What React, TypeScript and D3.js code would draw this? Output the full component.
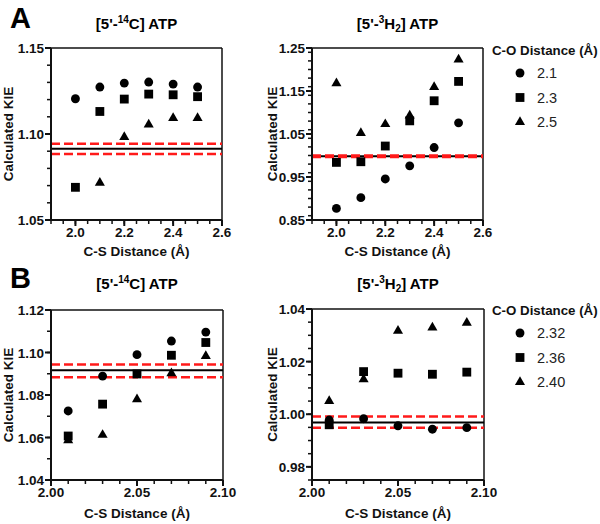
import React from "react";
import * as d3 from "d3";

// ---------- data ----------
const csDistA = [2.0, 2.1, 2.2, 2.3, 2.4, 2.5];
const csDistB = [2.01, 2.03, 2.05, 2.07, 2.09];
const coLabelsA = ["2.1", "2.3", "2.5"];
const coLabelsB = ["2.32", "2.36", "2.40"];

// Panel A, [5'-14C] ATP
const aC14_co21 = [1.1205, 1.1273, 1.1296, 1.1302, 1.129, 1.1273];
const aC14_co23 = [1.069, 1.1131, 1.1203, 1.1232, 1.1228, 1.1217];
const aC14_co25: (number | null)[] = [null, 1.0716, 1.0982, 1.1055, 1.1092, 1.1092];
// Panel A, [5'-3H2] ATP
const aH3_co21 = [0.877, 0.902, 0.9455, 0.976, 1.0185, 1.076];
const aH3_co23 = [0.984, 0.9855, 1.022, 1.0806, 1.1273, 1.1723];
const aH3_co25 = [1.168, 1.052, 1.0728, 1.093, 1.159, 1.223];
// Panel B, [5'-14C] ATP
const bC14_co232 = [1.0725, 1.0889, 1.099, 1.1054, 1.1096];
const bC14_co236 = [1.0607, 1.0757, 1.0899, 1.0987, 1.1047];
const bC14_co240 = [1.0587, 1.0612, 1.078, 1.0902, 1.0983];
// Panel B, [5'-3H2] ATP
const bH3_co232 = [0.9978, 0.9983, 0.9956, 0.9943, 0.9949];
const bH3_co236 = [0.996, 1.0162, 1.0156, 1.0152, 1.016];
const bH3_co240 = [1.005, 1.0133, 1.0317, 1.0329, 1.0347];

// experimental KIE: [mean, low, high]
const expC14A = [1.0914, 1.0884, 1.0943];
const expH3A = [0.9985, 0.9968, 1.0002];
const expC14B = [1.0916, 1.0883, 1.0944];
const expH3B = [0.9969, 0.9949, 0.9991];

// tick labels
const xTicksA = [2.0, 2.2, 2.4, 2.6];
const xTicksB = [2.0, 2.05, 2.1];
const yTicksAC14 = [1.05, 1.1, 1.15];
const yTicksAH3 = [0.85, 0.95, 1.05, 1.15, 1.25];
const yTicksBC14 = [1.04, 1.06, 1.08, 1.1, 1.12];
const yTicksBH3 = [0.98, 1.0, 1.02, 1.04];

const FONT = "'Liberation Sans', Arial, sans-serif";
const symbols = [d3.symbolCircle, d3.symbolSquare, d3.symbolTriangle];
const symbolSizes = [62, 78, 44];

type PanelProps = {
  x0: number; x1: number; y0: number; y1: number;
  xDomain: [number, number]; yDomain: [number, number];
  xTicks: number[]; xMinorStep: number; xFmt: string;
  yTicks: number[]; yMinorStep: number; yFmt: string;
  xs: number[]; series: (number | null)[][];
  exp: number[];
  title: React.ReactNode; titleY: number;
  yLabelX: number; xTickY: number; xLabelY: number;
};

function Panel(p: PanelProps) {
  const x = d3.scaleLinear().domain(p.xDomain).range([p.x0, p.x1]);
  const y = d3.scaleLinear().domain(p.yDomain).range([p.y1, p.y0]);
  const xMinor = d3.range(p.xDomain[0], p.xDomain[1] + 1e-9, p.xMinorStep);
  const yMinor = d3.range(
    Math.ceil(p.yDomain[0] / p.yMinorStep - 1e-6) * p.yMinorStep,
    p.yDomain[1] + 1e-9,
    p.yMinorStep
  );
  const xf = d3.format(p.xFmt);
  const yf = d3.format(p.yFmt);
  const cx = (p.x0 + p.x1) / 2;
  const cy = (p.y0 + p.y1) / 2;
  return (
    <g>
      <text x={cx} y={p.titleY} textAnchor="middle" fontFamily={FONT} fontWeight="bold" fontSize={15}>
        {p.title}
      </text>
      {/* frame */}
      <line x1={p.x0} x2={p.x1} y1={p.y0} y2={p.y0} stroke="#111" strokeWidth={1.5} />
      <line x1={p.x1} x2={p.x1} y1={p.y0} y2={p.y1} stroke="#111" strokeWidth={1.5} />
      {/* reference lines */}
      <line x1={p.x0} x2={p.x1} y1={y(p.exp[0])} y2={y(p.exp[0])} stroke="#000" strokeWidth={2} />
      <line x1={p.x0} x2={p.x1} y1={y(p.exp[1])} y2={y(p.exp[1])} stroke="#ff1a1a" strokeWidth={2.5} strokeDasharray="9,4" />
      <line x1={p.x0} x2={p.x1} y1={y(p.exp[2])} y2={y(p.exp[2])} stroke="#ff1a1a" strokeWidth={2.5} strokeDasharray="9,4" />
      {/* axes */}
      <line x1={p.x0} x2={p.x0} y1={p.y0} y2={p.y1 + 1} stroke="#111" strokeWidth={2} />
      <line x1={p.x0 - 1} x2={p.x1} y1={p.y1} y2={p.y1} stroke="#111" strokeWidth={2} />
      {xMinor.map((v, i) => (
        <line key={"xm" + i} x1={x(v)} x2={x(v)} y1={p.y1} y2={p.y1 + 4} stroke="#111" strokeWidth={1.5} />
      ))}
      {yMinor.map((v, i) => (
        <line key={"ym" + i} x1={p.x0 - 4} x2={p.x0} y1={y(v)} y2={y(v)} stroke="#111" strokeWidth={1.5} />
      ))}
      {p.xTicks.map((v, i) => (
        <g key={"xt" + i}>
          <line x1={x(v)} x2={x(v)} y1={p.y1} y2={p.y1 + 6} stroke="#111" strokeWidth={2} />
          <text x={x(v)} y={p.xTickY} textAnchor="middle" fontFamily={FONT} fontWeight="bold" fontSize={13.5} fill="#111">
            {xf(v)}
          </text>
        </g>
      ))}
      {p.yTicks.map((v, i) => (
        <g key={"yt" + i}>
          <line x1={p.x0 - 6} x2={p.x0} y1={y(v)} y2={y(v)} stroke="#111" strokeWidth={2} />
          <text x={p.x0 - 7} y={y(v) + 5} textAnchor="end" fontFamily={FONT} fontWeight="bold" fontSize={13.5} fill="#111">
            {yf(v)}
          </text>
        </g>
      ))}
      <text x={cx} y={p.xLabelY} textAnchor="middle" fontFamily={FONT} fontWeight="bold" fontSize={13.5} fill="#111">
        C-S Distance (Å)
      </text>
      <text transform={`translate(${p.yLabelX},${cy}) rotate(-90)`} textAnchor="middle" fontFamily={FONT} fontWeight="bold" fontSize={13.5} fill="#111">
        Calculated KIE
      </text>
      {/* points */}
      {p.series.map((s, si) =>
        s.map((v, i) =>
          v == null ? null : (
            <path
              key={si + "-" + i}
              transform={`translate(${x(p.xs[i])},${y(v)})`}
              d={d3.symbol().type(symbols[si]).size(symbolSizes[si])() as string}
              fill="#000"
            />
          )
        )
      )}
    </g>
  );
}

function Legend({ x, y, labels }: { x: number; y: number; labels: string[] }) {
  return (
    <g>
      <text x={x} y={y} fontFamily={FONT} fontWeight="bold" fontSize={13.3} fill="#111">
        C-O Distance (Å)
      </text>
      {labels.map((l, i) => (
        <g key={l} transform={`translate(0,${y + 18 + i * 24.5})`}>
          <path transform={`translate(${x + 28},0)`} d={d3.symbol().type(symbols[i]).size(symbolSizes[i])() as string} fill="#000" />
          <text x={x + 45} y={5} fontFamily={FONT} fontSize={14.5} fill="#222">
            {l}
          </text>
        </g>
      ))}
    </g>
  );
}

const titleC14 = (
  <>
    <tspan>[5'-</tspan>
    <tspan fontSize={10} dy={-6}>14</tspan>
    <tspan dy={6}>C] ATP</tspan>
  </>
);
const titleH3 = (
  <>
    <tspan>[5'-</tspan>
    <tspan fontSize={10} dy={-6}>3</tspan>
    <tspan dy={6}>H</tspan>
    <tspan fontSize={10} dy={3}>2</tspan>
    <tspan dy={-3}>] ATP</tspan>
  </>
);

export default function App() {
  return (
    <svg width={600} height={524} style={{ position: "absolute", left: 0, top: 0, background: "#fff" }}>
      <rect width={600} height={524} fill="#fff" />
      <text x={10} y={28} fontFamily={FONT} fontWeight="bold" fontSize={29}>A</text>
      <text x={10} y={288} fontFamily={FONT} fontWeight="bold" fontSize={29}>B</text>

      <Panel
        x0={51} x1={222} y0={48} y1={220}
        xDomain={[1.9, 2.6]} yDomain={[1.05, 1.15]}
        xTicks={xTicksA} xMinorStep={0.05} xFmt=".1f"
        yTicks={yTicksAC14} yMinorStep={0.01} yFmt=".2f"
        xs={csDistA} series={[aC14_co21, aC14_co23, aC14_co25]}
        exp={expC14A} title={titleC14} titleY={29}
        yLabelX={13} xTickY={237} xLabelY={256}
      />
      <Panel
        x0={312} x1={483} y0={48} y1={220}
        xDomain={[1.9, 2.6]} yDomain={[0.85, 1.25]}
        xTicks={xTicksA} xMinorStep={0.05} xFmt=".1f"
        yTicks={yTicksAH3} yMinorStep={0.02} yFmt=".2f"
        xs={csDistA} series={[aH3_co21, aH3_co23, aH3_co25]}
        exp={expH3A} title={titleH3} titleY={29}
        yLabelX={277} xTickY={237} xLabelY={256}
      />
      <Legend x={492} y={55} labels={coLabelsA} />

      <Panel
        x0={51} x1={223} y0={310} y1={480}
        xDomain={[2.0, 2.1]} yDomain={[1.04, 1.12]}
        xTicks={xTicksB} xMinorStep={0.01} xFmt=".2f"
        yTicks={yTicksBC14} yMinorStep={0.01} yFmt=".2f"
        xs={csDistB} series={[bC14_co232, bC14_co236, bC14_co240]}
        exp={expC14B} title={titleC14} titleY={289}
        yLabelX={13} xTickY={497} xLabelY={518}
      />
      <Panel
        x0={312} x1={484} y0={309} y1={480}
        xDomain={[2.0, 2.1]} yDomain={[0.975, 1.04]}
        xTicks={xTicksB} xMinorStep={0.01} xFmt=".2f"
        yTicks={yTicksBH3} yMinorStep={0.005} yFmt=".2f"
        xs={csDistB} series={[bH3_co232, bH3_co236, bH3_co240]}
        exp={expH3B} title={titleH3} titleY={289}
        yLabelX={277} xTickY={497} xLabelY={518}
      />
      <Legend x={492} y={315} labels={coLabelsB} />
    </svg>
  );
}
